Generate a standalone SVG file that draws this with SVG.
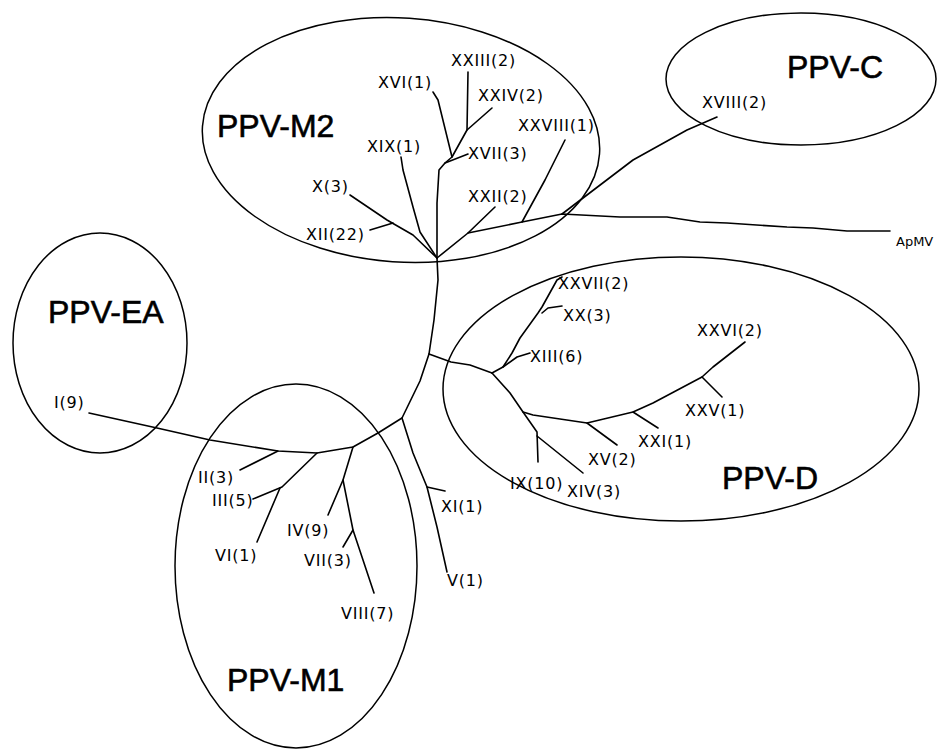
<svg xmlns="http://www.w3.org/2000/svg" width="938" height="750" viewBox="0 0 938 750">
<style>
.bg{fill:#fff}
.ell{fill:none;stroke:#000;stroke-width:1.5}
.br{fill:none;stroke:#000;stroke-width:1.6;stroke-linejoin:round;stroke-linecap:round}
.big{font-family:"Liberation Sans",Arial,sans-serif;font-size:32px;fill:#000;stroke:#000;stroke-width:0.6}
.lf{font-family:"DejaVu Sans","Liberation Sans",sans-serif;font-size:16px;letter-spacing:0.8px;fill:#000}
.sm{font-family:"DejaVu Sans","Liberation Sans",sans-serif;font-size:13px;fill:#000}
</style>
<rect class="bg" x="0" y="0" width="938" height="750"/>
<g id="cluster-PPV-M2">
<ellipse class="ell" cx="401" cy="140" rx="199" ry="122" transform="rotate(4 401 140)"/>
<text class="big" x="217" y="137">PPV-M2</text>
</g>
<g id="cluster-PPV-C">
<ellipse class="ell" cx="801" cy="79" rx="135" ry="66"/>
<text class="big" x="787" y="78">PPV-C</text>
</g>
<g id="cluster-PPV-EA">
<ellipse class="ell" cx="100" cy="343" rx="87" ry="110"/>
<text class="big" x="48" y="323">PPV-EA</text>
</g>
<g id="cluster-PPV-D">
<ellipse class="ell" cx="681" cy="389" rx="238" ry="132"/>
<text class="big" x="722" y="489">PPV-D</text>
</g>
<g id="cluster-PPV-M1">
<ellipse class="ell" cx="296" cy="566" rx="121" ry="182"/>
<text class="big" x="227" y="691">PPV-M1</text>
</g>
<g id="connectors">
<polyline class="br" points="89,413 157,428 210,440 278,451 317,453 353,447 378,433 402,418 420,381 429,354 434,320 438,280 437,258 437,203 439,170 445,163 452,157 467,130 468,72"/>
<polyline class="br" points="445,163 468,154"/>
<polyline class="br" points="452,157 438,100 433,92"/>
<polyline class="br" points="467,130 492,108"/>
<polyline class="br" points="401,157 403,170 413,207 420,232 437,258"/>
<polyline class="br" points="350,195 387,220 413,235 437,258"/>
<polyline class="br" points="370,230 393,223"/>
<polyline class="br" points="437,258 468,233 495,207"/>
<polyline class="br" points="468,233 522,222 562,214 620,217 667,217 700,222 727,223 787,227 813,228 847,231 890,231"/>
<polyline class="br" points="522,222 545,180 565,140"/>
<polyline class="br" points="562,214 633,160 687,130 717,117"/>
<polyline class="br" points="429,354 451,362 470,365 492,373"/>
<polyline class="br" points="492,373 503,367 512,353 520,338 538,313 542,307 557,280 562,277"/>
<polyline class="br" points="542,313 548,308 562,306"/>
<polyline class="br" points="503,367 517,357 530,353"/>
<polyline class="br" points="492,373 510,393 523,412 533,415 560,419 587,423 633,412 653,403 702,377 713,367 745,342"/>
<polyline class="br" points="587,423 617,445"/>
<polyline class="br" points="633,412 658,428"/>
<polyline class="br" points="702,377 722,397"/>
<polyline class="br" points="523,412 537,432 538,462"/>
<polyline class="br" points="537,436 583,473"/>
<polyline class="br" points="278,451 240,470"/>
<polyline class="br" points="317,453 282,487 253,499"/>
<polyline class="br" points="280,488 257,542"/>
<polyline class="br" points="353,447 343,480 328,515"/>
<polyline class="br" points="343,480 353,530 374,593"/>
<polyline class="br" points="353,530 343,547"/>
<polyline class="br" points="402,418 413,453 427,487 437,527 447,572"/>
<polyline class="br" points="427,487 445,491"/>
</g>
<g id="leaf-XVI"><text class="lf" x="378" y="88">XVI(1)</text></g>
<g id="leaf-XXIII"><text class="lf" x="451" y="66">XXIII(2)</text></g>
<g id="leaf-XXIV"><text class="lf" x="478" y="101">XXIV(2)</text></g>
<g id="leaf-XXVIII"><text class="lf" x="518" y="131">XXVIII(1)</text></g>
<g id="leaf-XIX"><text class="lf" x="367" y="152">XIX(1)</text></g>
<g id="leaf-XVII"><text class="lf" x="468" y="159">XVII(3)</text></g>
<g id="leaf-X"><text class="lf" x="312" y="192">X(3)</text></g>
<g id="leaf-XXII"><text class="lf" x="468" y="202">XXII(2)</text></g>
<g id="leaf-XII"><text class="lf" x="306" y="240">XII(22)</text></g>
<g id="leaf-XVIII"><text class="lf" x="702" y="108">XVIII(2)</text></g>
<g id="leaf-ApMV"><text class="sm" x="896" y="246">ApMV</text></g>
<g id="leaf-I"><text class="lf" x="54" y="408">I(9)</text></g>
<g id="leaf-II"><text class="lf" x="198" y="483">II(3)</text></g>
<g id="leaf-III"><text class="lf" x="212" y="506">III(5)</text></g>
<g id="leaf-VI"><text class="lf" x="215" y="561">VI(1)</text></g>
<g id="leaf-IV"><text class="lf" x="287" y="536">IV(9)</text></g>
<g id="leaf-VII"><text class="lf" x="304" y="566">VII(3)</text></g>
<g id="leaf-VIII"><text class="lf" x="341" y="619">VIII(7)</text></g>
<g id="leaf-XI"><text class="lf" x="441" y="512">XI(1)</text></g>
<g id="leaf-V"><text class="lf" x="447" y="586">V(1)</text></g>
<g id="leaf-XXVII"><text class="lf" x="558" y="289">XXVII(2)</text></g>
<g id="leaf-XX"><text class="lf" x="563" y="321">XX(3)</text></g>
<g id="leaf-XXVI"><text class="lf" x="697" y="336">XXVI(2)</text></g>
<g id="leaf-XIII"><text class="lf" x="530" y="362">XIII(6)</text></g>
<g id="leaf-XXV"><text class="lf" x="685" y="416">XXV(1)</text></g>
<g id="leaf-XXI"><text class="lf" x="638" y="447">XXI(1)</text></g>
<g id="leaf-XV"><text class="lf" x="588" y="465">XV(2)</text></g>
<g id="leaf-IX"><text class="lf" x="510" y="489">IX(10)</text></g>
<g id="leaf-XIV"><text class="lf" x="567" y="497">XIV(3)</text></g>
</svg>
